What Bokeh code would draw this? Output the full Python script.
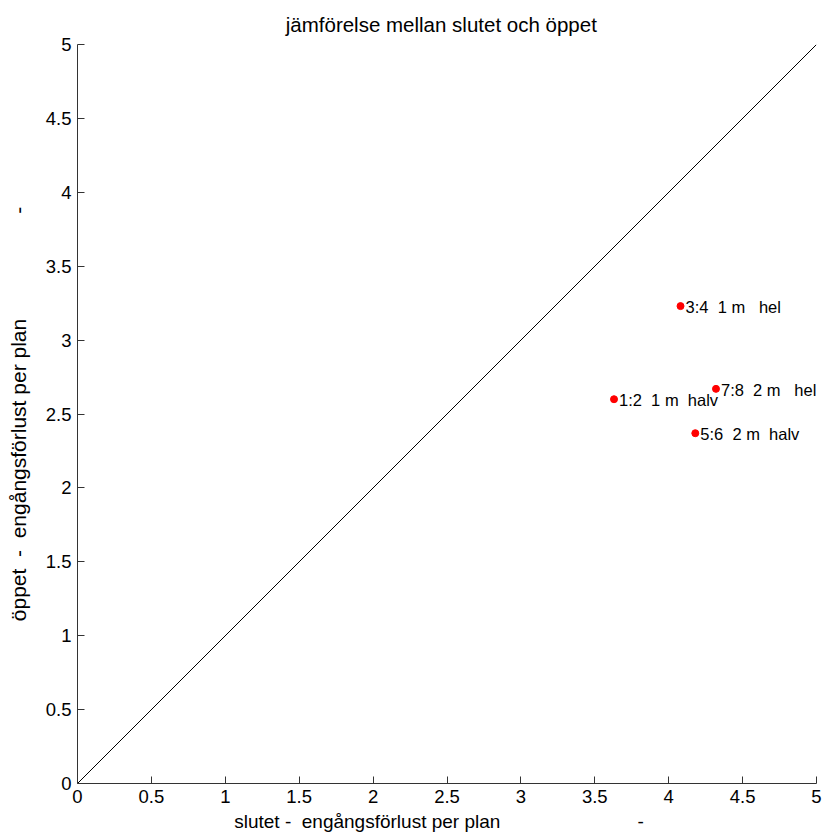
from bokeh.plotting import figure
from bokeh.models import ColumnDataSource, FixedTicker, Title
from bokeh.embed import file_html
from bokeh.resources import INLINE

NB = "\u00a0"

# measured pairs: closed (slutet) vs open (öppet) entry loss per plan
slutet = [3.63, 4.08, 4.18, 4.32]
oppet = [2.60, 3.23, 2.37, 2.67]
pair_labels = [
    "1:2" + NB * 2 + "1 m" + NB * 2 + "halv",
    "3:4" + NB * 2 + "1 m" + NB * 3 + "hel",
    "5:6" + NB * 2 + "2 m" + NB * 2 + "halv",
    "7:8" + NB * 2 + "2 m" + NB * 3 + "hel",
]

# reference line y = x
ref_line = [0, 5]

ticks = [0, 0.5, 1, 1.5, 2, 2.5, 3, 3.5, 4, 4.5, 5]
tick_labels = ["0", "0.5", "1", "1.5", "2", "2.5", "3", "3.5", "4", "4.5", "5"]

FONT = "Liberation Sans, Arial, Helvetica, sans-serif"

p = figure(
    width=826, height=839,
    x_range=(0, 5), y_range=(0, 5),
    output_backend="svg", toolbar_location=None,
    min_border_left=77, min_border_right=10,
    min_border_top=44, min_border_bottom=56,
)
p.outline_line_color = None
p.grid.visible = False
p.background_fill_color = "white"
p.border_fill_color = "white"

p.title = Title(
    text="jämförelse mellan slutet och öppet" + NB * 2,
    align="center", text_font=FONT, text_font_size="20.5px",
    text_font_style="normal", text_color="black", standoff=18,
)

overrides = {t: l for t, l in zip(ticks, tick_labels)}
for ax in (p.xaxis[0], p.yaxis[0]):
    ax.ticker = FixedTicker(ticks=ticks)
    ax.major_label_overrides = overrides
    ax.major_tick_in = 7
    ax.major_tick_out = 0
    ax.minor_tick_line_color = None
    ax.axis_line_color = "#333333"
    ax.major_tick_line_color = "#333333"
    ax.major_label_text_font = FONT
    ax.major_label_text_font_size = "18.5px"
    ax.major_label_text_color = "black"
    ax.axis_label_text_font = FONT
    ax.axis_label_text_font_style = "normal"
    ax.axis_label_text_color = "black"
    ax.major_label_standoff = 6

p.xaxis[0].axis_label = "slutet -" + NB * 2 + "engångsförlust per plan" + NB * 26 + "-" + NB * 3
p.yaxis[0].axis_label = "öppet" + NB * 2 + "-" + NB * 2 + "engångsförlust per plan" + NB * 18 + "-"
p.xaxis[0].axis_label_text_font_size = "19px"
p.yaxis[0].axis_label_text_font_size = "21px"
p.xaxis[0].axis_label_standoff = 5
p.yaxis[0].axis_label_standoff = 13

p.line(ref_line, ref_line, line_color="black", line_width=1)

src = ColumnDataSource(dict(x=slutet, y=oppet, label=pair_labels))
p.scatter("x", "y", source=src, size=7, fill_color="red", line_color="red")
p.text("x", "y", text="label", source=src, x_offset=5, y_offset=1,
       text_baseline="middle", text_align="left",
       text_font={"value": FONT}, text_font_size={"value": "16.5px"},
       text_color="black")

open("out.html", "w").write(file_html(p, INLINE))
